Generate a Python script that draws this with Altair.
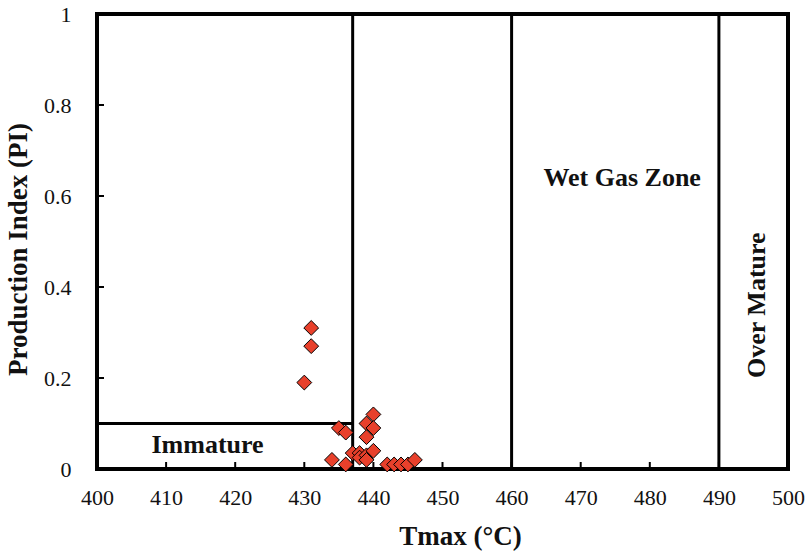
import altair as alt
import pandas as pd

# Rock-Eval samples: Tmax (°C) vs production index
tmax = [430, 431, 431, 434, 435, 436, 436, 437, 438, 438, 439, 439, 439, 439,
        440, 440, 440, 442, 443, 444, 445, 446]
pi = [0.19, 0.27, 0.31, 0.02, 0.09, 0.08, 0.01, 0.035, 0.035, 0.025, 0.03, 0.10,
      0.07, 0.02, 0.12, 0.09, 0.04, 0.01, 0.01, 0.01, 0.01, 0.02]

# Zone boundaries
vlines = [437, 460, 490]
immature_cap = 0.1

# Zone labels
zone_names = ["Immature", "Wet Gas Zone", "Over Mature"]
zone_x = [416, 476, 495.5]
zone_y = [0.053, 0.64, 0.36]
zone_angle = [0, 0, 270]

x_ticks = list(range(400, 501, 10))
y_ticks = [0, 0.2, 0.4, 0.6, 0.8, 1]

FONT = "Liberation Serif"

xs = alt.Scale(domain=[400, 500], nice=False, zero=False)
ys = alt.Scale(domain=[0, 1], nice=False)

pts = pd.DataFrame({"Tmax": tmax, "PI": pi})

xaxis = alt.Axis(values=x_ticks, title="Tmax (°C)", grid=False, domain=False,
                 ticks=False, labelPadding=18, labelFlush=False, format="d",
                 titleX=363, titleY=67, titleBaseline="middle", titleAlign="center",
                 titleFontSize=27)
yaxis = alt.Axis(values=y_ticks, title="Production Index (PI)", grid=False,
                 domain=False, ticks=False, labelPadding=26, labelFlush=False,
                 format="~g", titleX=-79, titleY=235, titleBaseline="middle",
                 titleAlign="center", titleAngle=270, titleFontSize=27)

base = alt.Chart(pts).mark_point(
    shape="diamond", filled=True, size=220, fill="#E8402B",
    stroke="black", strokeWidth=1, opacity=1
).encode(
    x=alt.X("Tmax:Q", scale=xs, axis=xaxis),
    y=alt.Y("PI:Q", scale=ys, axis=yaxis),
)

# Vertical zone boundaries spanning the full height
vdf = pd.DataFrame({"x": vlines})
vrules = alt.Chart(vdf).mark_rule(color="black", strokeWidth=3).encode(
    x=alt.X("x:Q", scale=xs),
    y=alt.value(0), y2=alt.value(455),
)

# Immature cap line
hdf = pd.DataFrame({"x1": [400], "x2": [vlines[0]], "y": [immature_cap]})
hrule = alt.Chart(hdf).mark_rule(color="black", strokeWidth=3).encode(
    x=alt.X("x1:Q", scale=xs), x2="x2:Q", y=alt.Y("y:Q", scale=ys),
)

# Inward tick marks
xt = pd.DataFrame({"x": x_ticks[1:-1]})
xticks = alt.Chart(xt).mark_rule(color="black", strokeWidth=2).encode(
    x=alt.X("x:Q", scale=xs), y=alt.value(455), y2=alt.value(448),
)
yt = pd.DataFrame({"y": y_ticks[1:-1]})
yticks = alt.Chart(yt).mark_rule(color="black", strokeWidth=2).encode(
    y=alt.Y("y:Q", scale=ys), x=alt.value(0), x2=alt.value(7),
)

labels = pd.DataFrame({"name": zone_names, "x": zone_x, "y": zone_y, "a": zone_angle})
texts = []
for _, r in labels.iterrows():
    texts.append(
        alt.Chart(labels[labels["name"] == r["name"]]).mark_text(
            font=FONT, fontSize=26, fontWeight="bold", color="#111111",
            angle=int(r["a"]), align="center", baseline="middle"
        ).encode(x=alt.X("x:Q", scale=xs), y=alt.Y("y:Q", scale=ys), text="name:N")
    )

chart = alt.layer(vrules, hrule, xticks, yticks, base, *texts).properties(
    width=691, height=455,
    padding={"left": 97, "top": 14, "right": 22, "bottom": 84},
    autosize="none",
).configure_view(
    stroke="black", strokeWidth=4
).configure_axis(
    labelFont=FONT, labelFontSize=22, labelColor="#111111",
    titleFont=FONT, titleFontWeight="bold", titleColor="#111111",
)

chart.save("out.html", embed_options={"renderer": "svg", "actions": False})
